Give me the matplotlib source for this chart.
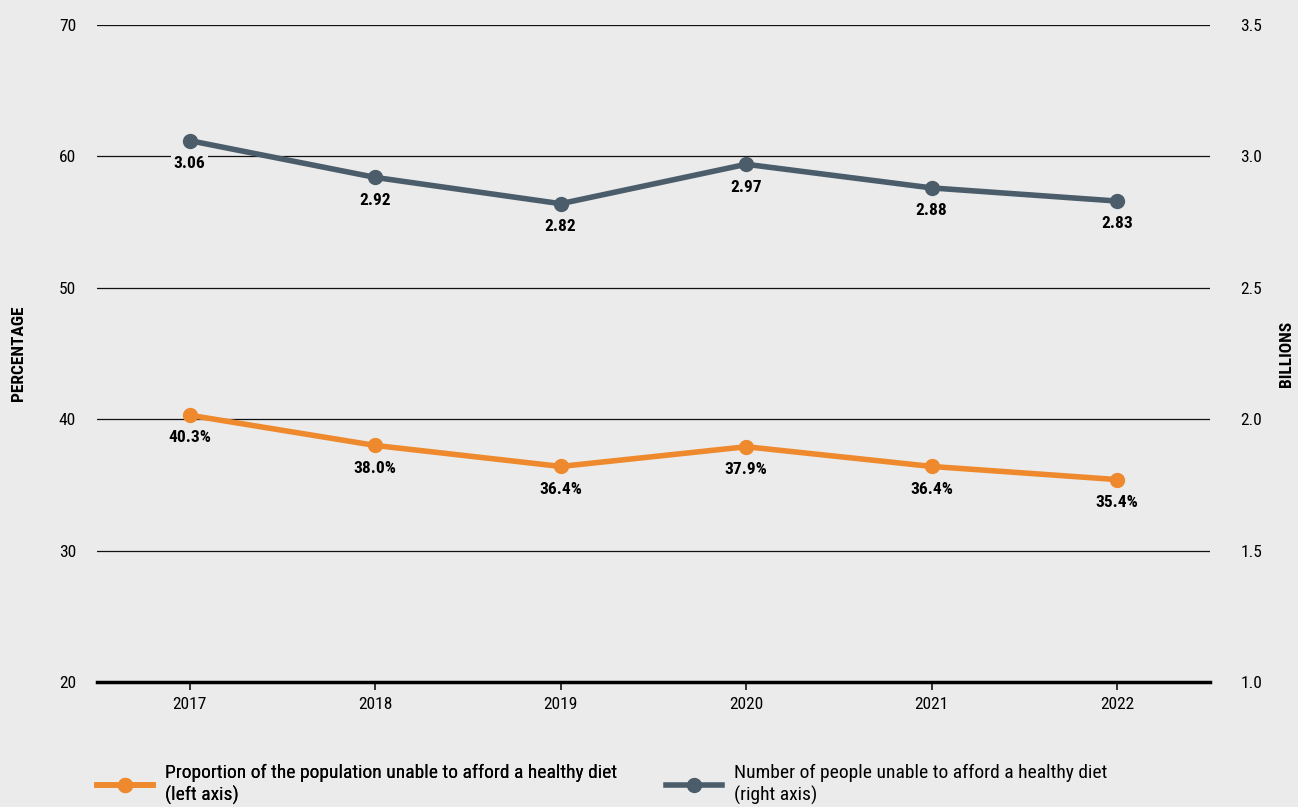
import matplotlib.pyplot as plt
from matplotlib import font_manager
from matplotlib.lines import Line2D

years = [2017, 2018, 2019, 2020, 2021, 2022]
share_pct = [40.3, 38.0, 36.4, 37.9, 36.4, 35.4]
people_bn = [3.06, 2.92, 2.82, 2.97, 2.88, 2.83]
left_ticks = [20, 30, 40, 50, 60, 70]
right_ticks = [1.0, 1.5, 2.0, 2.5, 3.0, 3.5]

# look for a condensed face, the original uses a narrow gothic
fonts = [(f.name, f.stretch) for f in font_manager.fontManager.ttflist]
fam, stretch = 'Roboto', 'normal'
for want in ['Roboto Condensed', 'Liberation Sans Narrow', 'Noto Sans', 'Open Sans', 'Roboto']:
    hit = [s for n, s in fonts if n == want and s in ('condensed', 'semi-condensed', 'extra-condensed')]
    if want in ('Roboto Condensed', 'Liberation Sans Narrow') and any(n == want for n, s in fonts):
        fam, stretch = want, 'normal'
        break
    if hit:
        fam, stretch = want, hit[0]
        break
plt.rcParams['font.family'] = [fam, 'DejaVu Sans']
plt.rcParams['font.stretch'] = stretch

bg = '#ebebeb'
orange = '#ee8a2d'
slate = '#4b5d6b'

fig = plt.figure(figsize=(12.98, 8.07), dpi=100, facecolor=bg)
ax = fig.add_axes([0.0747, 0.155, 0.8575, 0.814])
ax2 = ax.twinx()
# left axis on top so its x ticks show
ax.set_zorder(ax2.get_zorder() + 1)
ax.patch.set_visible(False)

ax.set_xlim(2016.5, 2022.5)
ax.set_ylim(20, 70)
ax2.set_ylim(1.0, 3.5)

# grid
for v in left_ticks[1:]:
    ax2.axhline(v / 20, color='#111111', lw=0.9, zorder=1)

for s in ax.spines.values():
    s.set_visible(False)
for s in ax2.spines.values():
    s.set_visible(False)
ax.spines['bottom'].set_visible(True)
ax.spines['bottom'].set_linewidth(2.5)
ax.spines['bottom'].set_color('black')

ax.set_xticks(years)
ax.set_xticklabels([str(y) for y in years], fontsize=12.5)
ax.set_yticks(left_ticks)
ax.set_yticklabels([str(v) for v in left_ticks], fontsize=12.5)
ax.tick_params(axis='y', length=0, pad=15)
ax.xaxis.set_tick_params(which='major', bottom=True, length=6, width=1.3,
                         color='#222222', pad=5, direction='out')
ax2.set_yticks(right_ticks)
ax2.set_yticklabels([f'{v:.1f}' for v in right_ticks], fontsize=12.5)
ax2.tick_params(axis='y', length=0, pad=22)

fig.text(0.014, 0.562, 'PERCENTAGE', rotation=90, ha='center', va='center',
         fontsize=12.5, fontweight='bold')
fig.text(0.991, 0.562, 'BILLIONS', rotation=90, ha='center', va='center',
         fontsize=12.5, fontweight='bold')

ax2.plot(years, people_bn, color=slate, lw=4, marker='o', ms=10, zorder=4, clip_on=False)
ax.plot(years, share_pct, color=orange, lw=4, marker='o', ms=10, zorder=4, clip_on=False)

for x, v in zip(years, share_pct):
    ax.annotate(f'{v:.1f}%', (x, v), xytext=(0, -11), textcoords='offset points',
                ha='center', va='top', fontsize=12.5, fontweight='bold', zorder=5)
for x, v in zip(years, people_bn):
    ax2.annotate(f'{v:.2f}', (x, v), xytext=(0, -11), textcoords='offset points',
                 ha='center', va='top', fontsize=12.5, fontweight='bold', zorder=5,
                 bbox=dict(boxstyle='square,pad=0.15', fc=bg, ec='none'))

h1 = Line2D([], [], color=orange, lw=4, marker='o', ms=10)
h2 = Line2D([], [], color=slate, lw=4, marker='o', ms=10)
kw = dict(loc='lower left', frameon=False, fontsize=14, handlelength=2.9,
          handletextpad=0.6, borderaxespad=0, borderpad=0)
leg1 = fig.legend([h1], ['Proportion of the population unable to afford a healthy diet\n(left axis)'],
                  bbox_to_anchor=(0.0747, 0.003), **kw)
fig.add_artist(leg1)
fig.legend([h2], ['Number of people unable to afford a healthy diet\n(right axis)'],
           bbox_to_anchor=(0.513, 0.003), **kw)

fig.savefig('out.png', dpi=100, facecolor=bg)
